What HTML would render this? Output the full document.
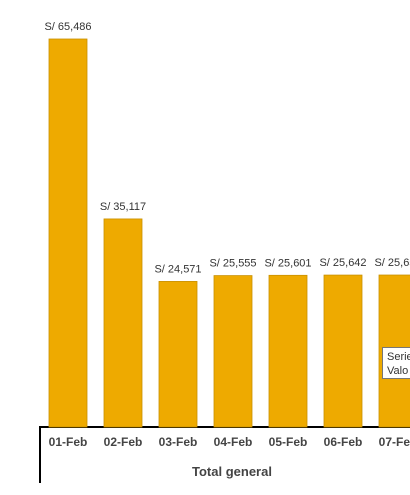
<!DOCTYPE html>
<html><head><meta charset="utf-8"><style>
body{margin:0;background:#fff;width:410px;height:490px;overflow:hidden;font-family:"Liberation Sans",sans-serif}
</style></head><body>
<svg width="410" height="490" id="c">
<line x1="40" y1="427" x2="410" y2="427" stroke="#000" stroke-width="2"/>
<line x1="40" y1="426" x2="40" y2="483" stroke="#000" stroke-width="2"/>
<text x="232" y="476" text-anchor="middle" font-size="13" font-weight="bold" fill="#444">Total general</text>
</svg>
<script>
const categories=["01-Feb","02-Feb","03-Feb","04-Feb","05-Feb","06-Feb","07-Feb"];
const values=[65486,35117,24571,25555,25601,25642,25650];
const valueLabels=["S/ 65,486","S/ 35,117","S/ 24,571","S/ 25,555","S/ 25,601","S/ 25,642","S/ 25,650"];
const svg=document.getElementById('c');const NS="http://www.w3.org/2000/svg";
const base=427,scale=388/65486;
const xc=i=>68+i*55;const y=v=>base-v*scale;
categories.forEach((c,i)=>{
 const r=document.createElementNS(NS,'rect');
 
 
 r.setAttribute('x',xc(i)-19);r.setAttribute('y',y(values[i]));r.setAttribute('width',38);r.setAttribute('height',base-y(values[i]));
 r.setAttribute('fill','#EEAA00');r.setAttribute('stroke','#C99000');r.setAttribute('stroke-width','0.8');
 svg.appendChild(r);
 const t=document.createElementNS(NS,'text');
 
 
 t.setAttribute('x',xc(i));t.setAttribute('y',y(values[i])-9);t.setAttribute('text-anchor','middle');t.setAttribute('font-size','11');t.setAttribute('fill','#333');
 t.textContent=valueLabels[i];svg.appendChild(t);
 const l=document.createElementNS(NS,'text');
 
 
 l.setAttribute('x',xc(i));l.setAttribute('y',446);l.setAttribute('text-anchor','middle');l.setAttribute('font-size','12');l.setAttribute('font-weight','bold');l.setAttribute('fill','#444');
 l.textContent=c;svg.appendChild(l);
});
const g=document.createElementNS(NS,'g');


g.innerHTML='<rect x="382.5" y="347.5" width="40" height="31" fill="#fff" stroke="#777"/><text x="387" y="360" font-size="11" fill="#333">Serie</text><text x="387" y="374" font-size="11" fill="#333">Valo</text>';
svg.appendChild(g);
</script>
</body></html>
